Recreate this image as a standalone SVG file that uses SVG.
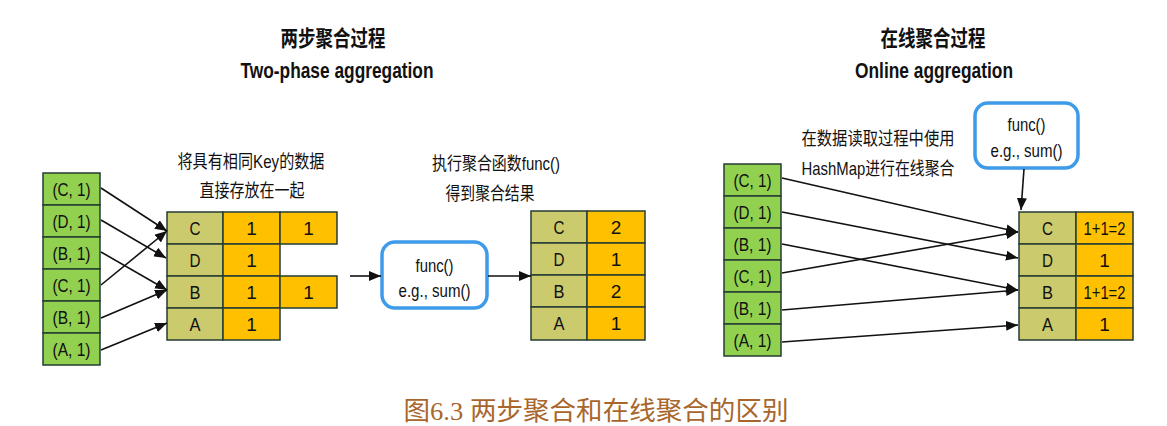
<svg xmlns="http://www.w3.org/2000/svg" width="1167" height="426" viewBox="0 0 1167 426">
<style>
.t{font-family:"Liberation Sans","Noto Sans CJK SC",sans-serif;fill:#111;text-anchor:middle;dominant-baseline:central}
.title{font-weight:bold;font-size:22px}
.lab{font-size:18.5px}
.cell{font-size:19px}
.in{fill:#92D050;stroke:#263d33;stroke-width:1.5}
.key{fill:#CBCA6C;stroke:#263d33;stroke-width:1.5}
.val{fill:#FFC000;stroke:#263d33;stroke-width:1.5}
.fn{fill:#fff;stroke:#3D9BE9;stroke-width:3.5}
.ln{stroke:#111;stroke-width:1.6;fill:none;marker-end:url(#ah)}
.cap{font-family:"Liberation Serif","Noto Sans CJK SC",serif;font-size:26px;fill:#A8662C;text-anchor:middle;dominant-baseline:central}
</style>
<defs>
<marker id="ah" viewBox="0 0 12 10" refX="12" refY="5" markerWidth="12" markerHeight="10" markerUnits="userSpaceOnUse" orient="auto">
<path d="M0,0 L12,5 L0,10 z" fill="#111"/>
</marker>
</defs>
<rect width="1167" height="426" fill="#fff"/>

<g id="title-left">
<text class="t title" x="333" y="38" textLength="105" lengthAdjust="spacingAndGlyphs">两步聚合过程</text>
<text class="t title" x="337" y="70" textLength="193" lengthAdjust="spacingAndGlyphs">Two-phase aggregation</text>
</g>
<g id="title-right">
<text class="t title" x="933" y="38" textLength="105" lengthAdjust="spacingAndGlyphs">在线聚合过程</text>
<text class="t title" x="934" y="70" textLength="158" lengthAdjust="spacingAndGlyphs">Online aggregation</text>
</g>

<g id="label-left1">
<text class="t lab" x="251" y="161" textLength="147" lengthAdjust="spacingAndGlyphs">将具有相同Key的数据</text>
<text class="t lab" x="252" y="190" textLength="105" lengthAdjust="spacingAndGlyphs">直接存放在一起</text>
</g>
<g id="label-left2">
<text class="t lab" x="496" y="163" textLength="128" lengthAdjust="spacingAndGlyphs">执行聚合函数func()</text>
<text class="t lab" x="490" y="193" textLength="89" lengthAdjust="spacingAndGlyphs">得到聚合结果</text>
</g>
<g id="label-right">
<text class="t lab" x="878" y="138" textLength="153" lengthAdjust="spacingAndGlyphs">在数据读取过程中使用</text>
<text class="t lab" x="878" y="168" textLength="153" lengthAdjust="spacingAndGlyphs">HashMap进行在线聚合</text>
</g>

<g id="input-left">
<rect class="in" x="43" y="173" width="57" height="32"/>
<rect class="in" x="43" y="205" width="57" height="32"/>
<rect class="in" x="43" y="237" width="57" height="32"/>
<rect class="in" x="43" y="269" width="57" height="32"/>
<rect class="in" x="43" y="301" width="57" height="32"/>
<rect class="in" x="43" y="333" width="57" height="32"/>
<text class="t cell" x="71.5" y="189" textLength="38" lengthAdjust="spacingAndGlyphs">(C, 1)</text>
<text class="t cell" x="71.5" y="221" textLength="38" lengthAdjust="spacingAndGlyphs">(D, 1)</text>
<text class="t cell" x="71.5" y="253" textLength="38" lengthAdjust="spacingAndGlyphs">(B, 1)</text>
<text class="t cell" x="71.5" y="285" textLength="38" lengthAdjust="spacingAndGlyphs">(C, 1)</text>
<text class="t cell" x="71.5" y="317" textLength="38" lengthAdjust="spacingAndGlyphs">(B, 1)</text>
<text class="t cell" x="71.5" y="349" textLength="38" lengthAdjust="spacingAndGlyphs">(A, 1)</text>
</g>

<g id="grouped-table">
<rect class="key" x="167" y="212" width="56" height="32"/>
<rect class="key" x="167" y="244" width="56" height="32"/>
<rect class="key" x="167" y="276" width="56" height="32"/>
<rect class="key" x="167" y="308" width="56" height="32"/>
<rect class="val" x="223" y="212" width="57" height="32"/>
<rect class="val" x="223" y="244" width="57" height="32"/>
<rect class="val" x="223" y="276" width="57" height="32"/>
<rect class="val" x="223" y="308" width="57" height="32"/>
<rect class="val" x="280" y="212" width="57" height="32"/>
<rect class="val" x="280" y="276" width="57" height="32"/>
<text class="t cell" x="195" y="228" textLength="11" lengthAdjust="spacingAndGlyphs">C</text>
<text class="t cell" x="195" y="260" textLength="11" lengthAdjust="spacingAndGlyphs">D</text>
<text class="t cell" x="195" y="292" textLength="11" lengthAdjust="spacingAndGlyphs">B</text>
<text class="t cell" x="195" y="324" textLength="11" lengthAdjust="spacingAndGlyphs">A</text>
<text class="t cell" x="251.5" y="228">1</text>
<text class="t cell" x="251.5" y="260">1</text>
<text class="t cell" x="251.5" y="292">1</text>
<text class="t cell" x="251.5" y="324">1</text>
<text class="t cell" x="308.5" y="228">1</text>
<text class="t cell" x="308.5" y="292">1</text>
</g>

<g id="func-left">
<rect class="fn" x="382" y="242" width="105" height="66" rx="13"/>
<text class="t lab" x="434.5" y="265" textLength="38" lengthAdjust="spacingAndGlyphs">func()</text>
<text class="t lab" x="434.5" y="290" textLength="72" lengthAdjust="spacingAndGlyphs">e.g., sum()</text>
</g>

<g id="result-table">
<rect class="key" x="531" y="211" width="56" height="32"/>
<rect class="key" x="531" y="243" width="56" height="32"/>
<rect class="key" x="531" y="275" width="56" height="32"/>
<rect class="key" x="531" y="307" width="56" height="33"/>
<rect class="val" x="587" y="211" width="58" height="32"/>
<rect class="val" x="587" y="243" width="58" height="32"/>
<rect class="val" x="587" y="275" width="58" height="32"/>
<rect class="val" x="587" y="307" width="58" height="33"/>
<text class="t cell" x="559" y="227" textLength="11" lengthAdjust="spacingAndGlyphs">C</text>
<text class="t cell" x="559" y="259" textLength="11" lengthAdjust="spacingAndGlyphs">D</text>
<text class="t cell" x="559" y="291" textLength="11" lengthAdjust="spacingAndGlyphs">B</text>
<text class="t cell" x="559" y="323" textLength="11" lengthAdjust="spacingAndGlyphs">A</text>
<text class="t cell" x="616" y="227">2</text>
<text class="t cell" x="616" y="259">1</text>
<text class="t cell" x="616" y="291">2</text>
<text class="t cell" x="616" y="323">1</text>
</g>

<g id="input-right">
<rect class="in" x="724" y="164" width="57" height="32"/>
<rect class="in" x="724" y="196" width="57" height="32"/>
<rect class="in" x="724" y="228" width="57" height="32"/>
<rect class="in" x="724" y="260" width="57" height="32"/>
<rect class="in" x="724" y="292" width="57" height="32"/>
<rect class="in" x="724" y="324" width="57" height="32"/>
<text class="t cell" x="752.5" y="180" textLength="38" lengthAdjust="spacingAndGlyphs">(C, 1)</text>
<text class="t cell" x="752.5" y="212" textLength="38" lengthAdjust="spacingAndGlyphs">(D, 1)</text>
<text class="t cell" x="752.5" y="244" textLength="38" lengthAdjust="spacingAndGlyphs">(B, 1)</text>
<text class="t cell" x="752.5" y="276" textLength="38" lengthAdjust="spacingAndGlyphs">(C, 1)</text>
<text class="t cell" x="752.5" y="308" textLength="38" lengthAdjust="spacingAndGlyphs">(B, 1)</text>
<text class="t cell" x="752.5" y="340" textLength="38" lengthAdjust="spacingAndGlyphs">(A, 1)</text>
</g>

<g id="func-right">
<rect class="fn" x="975" y="103" width="103" height="65" rx="13"/>
<text class="t lab" x="1026.5" y="124" textLength="38" lengthAdjust="spacingAndGlyphs">func()</text>
<text class="t lab" x="1026.5" y="150" textLength="72" lengthAdjust="spacingAndGlyphs">e.g., sum()</text>
</g>

<g id="online-table">
<rect class="key" x="1019" y="212" width="57" height="32"/>
<rect class="key" x="1019" y="244" width="57" height="32"/>
<rect class="key" x="1019" y="276" width="57" height="32"/>
<rect class="key" x="1019" y="308" width="57" height="32"/>
<rect class="val" x="1076" y="212" width="57" height="32"/>
<rect class="val" x="1076" y="244" width="57" height="32"/>
<rect class="val" x="1076" y="276" width="57" height="32"/>
<rect class="val" x="1076" y="308" width="57" height="32"/>
<text class="t cell" x="1047.5" y="228" textLength="11" lengthAdjust="spacingAndGlyphs">C</text>
<text class="t cell" x="1047.5" y="260" textLength="11" lengthAdjust="spacingAndGlyphs">D</text>
<text class="t cell" x="1047.5" y="292" textLength="11" lengthAdjust="spacingAndGlyphs">B</text>
<text class="t cell" x="1047.5" y="324" textLength="11" lengthAdjust="spacingAndGlyphs">A</text>
<text class="t cell" x="1104.5" y="228" textLength="42" lengthAdjust="spacingAndGlyphs">1+1=2</text>
<text class="t cell" x="1104.5" y="260">1</text>
<text class="t cell" x="1104.5" y="292" textLength="42" lengthAdjust="spacingAndGlyphs">1+1=2</text>
<text class="t cell" x="1104.5" y="324">1</text>
</g>

<g id="connectors">
<line class="ln" x1="101" y1="188" x2="167" y2="231"/>
<line class="ln" x1="101" y1="220" x2="166" y2="258"/>
<line class="ln" x1="101" y1="252" x2="167" y2="290"/>
<line class="ln" x1="101" y1="285" x2="167" y2="231"/>
<line class="ln" x1="101" y1="318" x2="167" y2="290"/>
<line class="ln" x1="101" y1="350" x2="167" y2="323"/>
<line class="ln" x1="350" y1="276" x2="381" y2="276"/>
<line class="ln" x1="488" y1="276" x2="531" y2="276"/>
<line class="ln" x1="782" y1="178" x2="1018" y2="232"/>
<line class="ln" x1="782" y1="212" x2="1018" y2="258"/>
<line class="ln" x1="782" y1="244" x2="1018" y2="290"/>
<line class="ln" x1="782" y1="273" x2="1018" y2="232"/>
<line class="ln" x1="782" y1="310" x2="1018" y2="290"/>
<line class="ln" x1="782" y1="342" x2="1018" y2="325"/>
<line class="ln" x1="1024" y1="169" x2="1021" y2="210"/>
</g>

<g id="caption">
<text class="cap" x="596" y="411" textLength="385" lengthAdjust="spacingAndGlyphs">图6.3 两步聚合和在线聚合的区别</text>
</g>
</svg>
